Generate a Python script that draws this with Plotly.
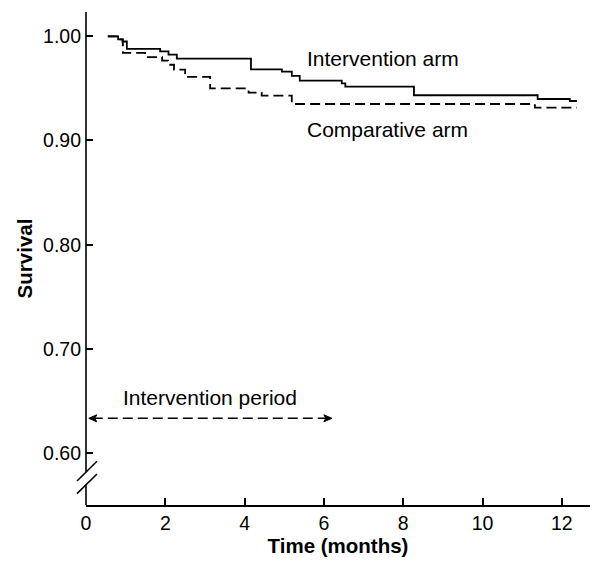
import plotly.graph_objects as go

# ---- data ----
int_time = [0.55, 0.81, 0.92, 1.03, 1.87, 2.08, 2.29, 4.16, 4.94, 5.19, 5.39, 6.45, 6.54, 8.27, 11.39, 12.20, 12.38]
int_surv = [1.000, 0.997, 0.995, 0.988, 0.9856, 0.9823, 0.9785, 0.9683, 0.966, 0.962, 0.9574, 0.9549, 0.9516, 0.9434, 0.9398, 0.9379, 0.9379]

cmp_time = [0.55, 0.81, 0.93, 1.49, 1.92, 2.07, 2.22, 2.50, 3.13, 4.10, 4.43, 5.19, 11.32, 12.38]
cmp_surv = [1.000, 0.997, 0.984, 0.980, 0.9766, 0.9727, 0.968, 0.961, 0.950, 0.946, 0.943, 0.935, 0.9315, 0.9315]

x_ticks = [0, 2, 4, 6, 8, 10, 12]
y_ticks = [0.60, 0.70, 0.80, 0.90, 1.00]
y_tick_labels = ["0.60", "0.70", "0.80", "0.90", "1.00"]

period_start, period_end = 0.07, 6.2

X_RANGE = [0, 12.71]
Y_RANGE = [0.5502, 1.0233]

FONT = "Arial, Liberation Sans, sans-serif"

# plot area geometry (px); page body adds an 8px offset
L, R, T, B = 78, 10, 4, 66
W, H = 592, 563
PW, PH = W - L - R, H - T - B


def xp(t):
    return (t - X_RANGE[0]) / (X_RANGE[1] - X_RANGE[0])


def yp(s):
    return (s - Y_RANGE[0]) / (Y_RANGE[1] - Y_RANGE[0])


def px2x(dpx):
    return dpx / PW


def px2y(dpx):
    return dpx / PH


fig = go.Figure()
fig.add_trace(go.Scatter(x=int_time, y=int_surv, mode="lines", line_shape="hv",
                         line=dict(color="black", width=1.8), showlegend=False,
                         name="Intervention arm"))
fig.add_trace(go.Scatter(x=cmp_time, y=cmp_surv, mode="lines", line_shape="hv",
                         line=dict(color="black", width=1.8, dash="10px,5px"),
                         showlegend=False, name="Comparative arm"))

shapes = []
# y axis line with break
brk_hi, brk_lo = 0.5822, 0.5700
shapes.append(dict(type="line", xref="paper", yref="paper", x0=0, x1=0,
                   y0=yp(brk_hi), y1=1, line=dict(color="black", width=1.6)))
shapes.append(dict(type="line", xref="paper", yref="paper", x0=0, x1=0,
                   y0=0, y1=yp(brk_lo), line=dict(color="black", width=1.6)))
for s_mid in (brk_hi, brk_lo):
    y0 = yp(s_mid)
    shapes.append(dict(type="line", xref="paper", yref="paper",
                       x0=px2x(-9), y0=y0 - px2y(9.3),
                       x1=px2x(11), y1=y0 + px2y(10.4),
                       line=dict(color="black", width=1.6)))

# intervention period arrow
s_arrow = 0.6334
shapes.append(dict(type="line", xref="x", yref="y", x0=period_start + 0.1, x1=period_end - 0.1,
                   y0=s_arrow, y1=s_arrow, line=dict(color="black", width=1.5, dash="10px,5px")))
ya = yp(s_arrow)
for t_tip, d in ((period_start, 1), (period_end, -1)):
    xt = xp(t_tip)
    path = (f"M {xt},{ya} L {xt + d*px2x(8)},{ya + px2y(3.5)} "
            f"L {xt + d*px2x(6)},{ya} L {xt + d*px2x(8)},{ya - px2y(3.5)} Z")
    shapes.append(dict(type="path", xref="paper", yref="paper", path=path,
                       fillcolor="black", line=dict(color="black", width=1)))

fig.update_layout(shapes=shapes)

ann_font = dict(family=FONT, size=21, color="black")
fig.add_annotation(x=5.52, y=0.979, text="Intervention arm", showarrow=False,
                   xanchor="left", yanchor="middle", font=ann_font)
fig.add_annotation(x=5.52, y=0.911, text="Comparative arm", showarrow=False,
                   xanchor="left", yanchor="middle", font=ann_font)
fig.add_annotation(x=3.13, y=0.653, text="Intervention period", showarrow=False,
                   xanchor="center", yanchor="middle", font=ann_font)

fig.update_xaxes(range=X_RANGE, tickvals=x_ticks, ticks="inside", ticklen=7,
                 tickwidth=1.5, tickcolor="black", showline=True, linecolor="black",
                 linewidth=1.6, showgrid=False, zeroline=False, automargin=False,
                 tickfont=dict(family=FONT, size=19.5, color="black"),
                 title=dict(text="<b>Time (months)</b>", standoff=4,
                            font=dict(family=FONT, size=20.5, color="black")))
fig.update_yaxes(range=Y_RANGE, tickvals=y_ticks, ticktext=y_tick_labels,
                 ticks="inside", ticklen=7, tickwidth=1.5, tickcolor="black",
                 showline=False, showgrid=False, zeroline=False, automargin=False,
                 ticklabelstandoff=4,
                 tickfont=dict(family=FONT, size=19.5, color="black"),
                 title=dict(text="<b>Survival</b>", standoff=4,
                            font=dict(family=FONT, size=20.5, color="black")))

fig.update_layout(width=W, height=H, margin=dict(l=L, r=R, t=T, b=B),
                  plot_bgcolor="white", paper_bgcolor="white", showlegend=False)

fig.write_html("out.html")
